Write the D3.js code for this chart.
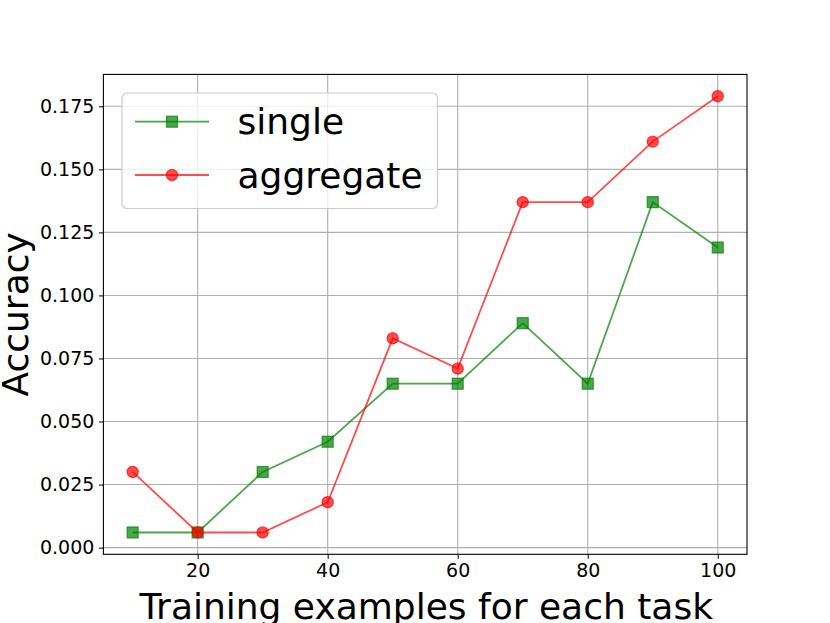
<!DOCTYPE html>
<html>
<head>
<meta charset="utf-8">
<script src="https://cdn.jsdelivr.net/npm/d3@7"></script>
<style>
  body { margin: 0; background: #fff; }
  svg text { font-family: "DejaVu Sans", sans-serif; }
</style>
</head>
<body>
<div id="chart"></div>
<script>
// Data
let examples = [10, 20, 30, 40, 50, 60, 70, 80, 90, 100];
let singleAcc = [0.006, 0.006, 0.030, 0.042, 0.065, 0.065, 0.089, 0.065, 0.137, 0.119];
let aggregateAcc = [0.030, 0.006, 0.006, 0.018, 0.083, 0.071, 0.137, 0.137, 0.161, 0.179];
let xTicks = [20, 40, 60, 80, 100];
let yTicks = [0, 0.025, 0.05, 0.075, 0.1, 0.125, 0.15, 0.175];

let svgWidth = 830,
    svgHeight = 623;

let margin = { left: 103.4, top: 74.4, right: 83, bottom: 68.7 };
let plotW = svgWidth - margin.left - margin.right,
    plotH = svgHeight - margin.top - margin.bottom;

let svg = d3.select('#chart')
    .append('svg')
    .attr('width', svgWidth)
    .attr('height', svgHeight);

let chartGroup = svg.append('g')
    .attr('transform', `translate(${margin.left}, ${margin.top})`);

// matplotlib-style 5% padding around the data
let xMin = d3.min(examples), xMax = d3.max(examples);
let allY = singleAcc.concat(aggregateAcc);
let yMin = d3.min(allY), yMax = d3.max(allY);
let xPad = (xMax - xMin) * 0.05, yPad = (yMax - yMin) * 0.05;

let xScale = d3.scaleLinear()
    .domain([xMin - xPad, xMax + xPad])
    .range([0, plotW]);

let yScale = d3.scaleLinear()
    .domain([yMin - yPad, yMax + yPad])
    .range([plotH, 0]);

// Grid
chartGroup.append('g')
    .selectAll('line')
    .data(xTicks)
    .enter()
    .append('line')
    .attr('x1', d => xScale(d)).attr('x2', d => xScale(d))
    .attr('y1', 0).attr('y2', plotH)
    .attr('stroke', '#b0b0b0').attr('stroke-width', 1.1);

chartGroup.append('g')
    .selectAll('line')
    .data(yTicks)
    .enter()
    .append('line')
    .attr('y1', d => yScale(d)).attr('y2', d => yScale(d))
    .attr('x1', 0).attr('x2', plotW)
    .attr('stroke', '#b0b0b0').attr('stroke-width', 1.1);

// Axes
let xAxis = d3.axisBottom(xScale).tickValues(xTicks).tickSize(4.5).tickPadding(4.5).tickFormat(d3.format('d'));
let yAxis = d3.axisLeft(yScale).tickValues(yTicks).tickSize(4.5).tickPadding(4.5).tickFormat(d3.format('.3f'));

let gx = chartGroup.append('g')
    .attr('transform', `translate(0, ${plotH})`)
    .call(xAxis);
let gy = chartGroup.append('g')
    .call(yAxis);

[gx, gy].forEach(g => {
    g.select('.domain').remove();
    g.selectAll('.tick line').attr('stroke', '#000').attr('stroke-width', 1);
    g.selectAll('.tick text').attr('fill', '#000').style('font-size', '19px');
});

// Frame
chartGroup.append('rect')
    .attr('width', plotW).attr('height', plotH)
    .attr('fill', 'none').attr('stroke', '#000').attr('stroke-width', 1.1);

// Series
let series = [
    { name: 'single', values: singleAcc, color: 'green', shape: 'square' },
    { name: 'aggregate', values: aggregateAcc, color: 'red', shape: 'circle' }
];

let line = d3.line()
    .x((d, i) => xScale(examples[i]))
    .y(d => yScale(d));

function drawMarker(g, shape, color, x, y) {
    if (shape === 'square') {
        g.append('rect')
            .attr('x', x - 5.5).attr('y', y - 5.5)
            .attr('width', 11).attr('height', 11)
            .attr('fill', color).attr('fill-opacity', 0.7)
            .attr('stroke', color).attr('stroke-opacity', 0.7).attr('stroke-width', 1.2);
    } else {
        g.append('circle')
            .attr('cx', x).attr('cy', y).attr('r', 5.6)
            .attr('fill', color).attr('fill-opacity', 0.7)
            .attr('stroke', color).attr('stroke-opacity', 0.7).attr('stroke-width', 1.2);
    }
}

series.forEach(s => {
    let g = chartGroup.append('g');
    g.append('path')
        .datum(s.values)
        .attr('d', line)
        .attr('fill', 'none')
        .attr('stroke', s.color)
        .attr('stroke-opacity', 0.7)
        .attr('stroke-width', 1.8);
    s.values.forEach((v, i) => drawMarker(g, s.shape, s.color, xScale(examples[i]), yScale(v)));
});

// Legend
let legend = svg.append('g');
legend.append('rect')
    .attr('x', 122).attr('y', 93)
    .attr('width', 315.5).attr('height', 115.5)
    .attr('rx', 5)
    .attr('fill', '#fff').attr('fill-opacity', 0.8)
    .attr('stroke', '#cccccc').attr('stroke-width', 1.2);

series.forEach((s, i) => {
    let cy = 121.7 + i * 53.3;
    legend.append('line')
        .attr('x1', 135).attr('x2', 209)
        .attr('y1', cy).attr('y2', cy)
        .attr('stroke', s.color).attr('stroke-opacity', 0.7).attr('stroke-width', 1.8);
    drawMarker(legend, s.shape, s.color, 172, cy);
    legend.append('text')
        .attr('x', 237.5).attr('y', cy + 12.5)
        .style('font-size', '36px')
        .attr('fill', '#000')
        .text(s.name);
});

// Axis labels (the bottom one is clipped by the figure edge, as in the reference)
svg.append('text')
    .attr('x', margin.left + plotW / 2 + 1)
    .attr('y', 619)
    .attr('text-anchor', 'middle')
    .style('font-size', '36px')
    .text('Training examples for each task');

svg.append('text')
    .attr('transform', `translate(28, ${margin.top + plotH / 2}) rotate(-90)`)
    .attr('text-anchor', 'middle')
    .style('font-size', '36px')
    .text('Accuracy');
</script>
</body>
</html>
